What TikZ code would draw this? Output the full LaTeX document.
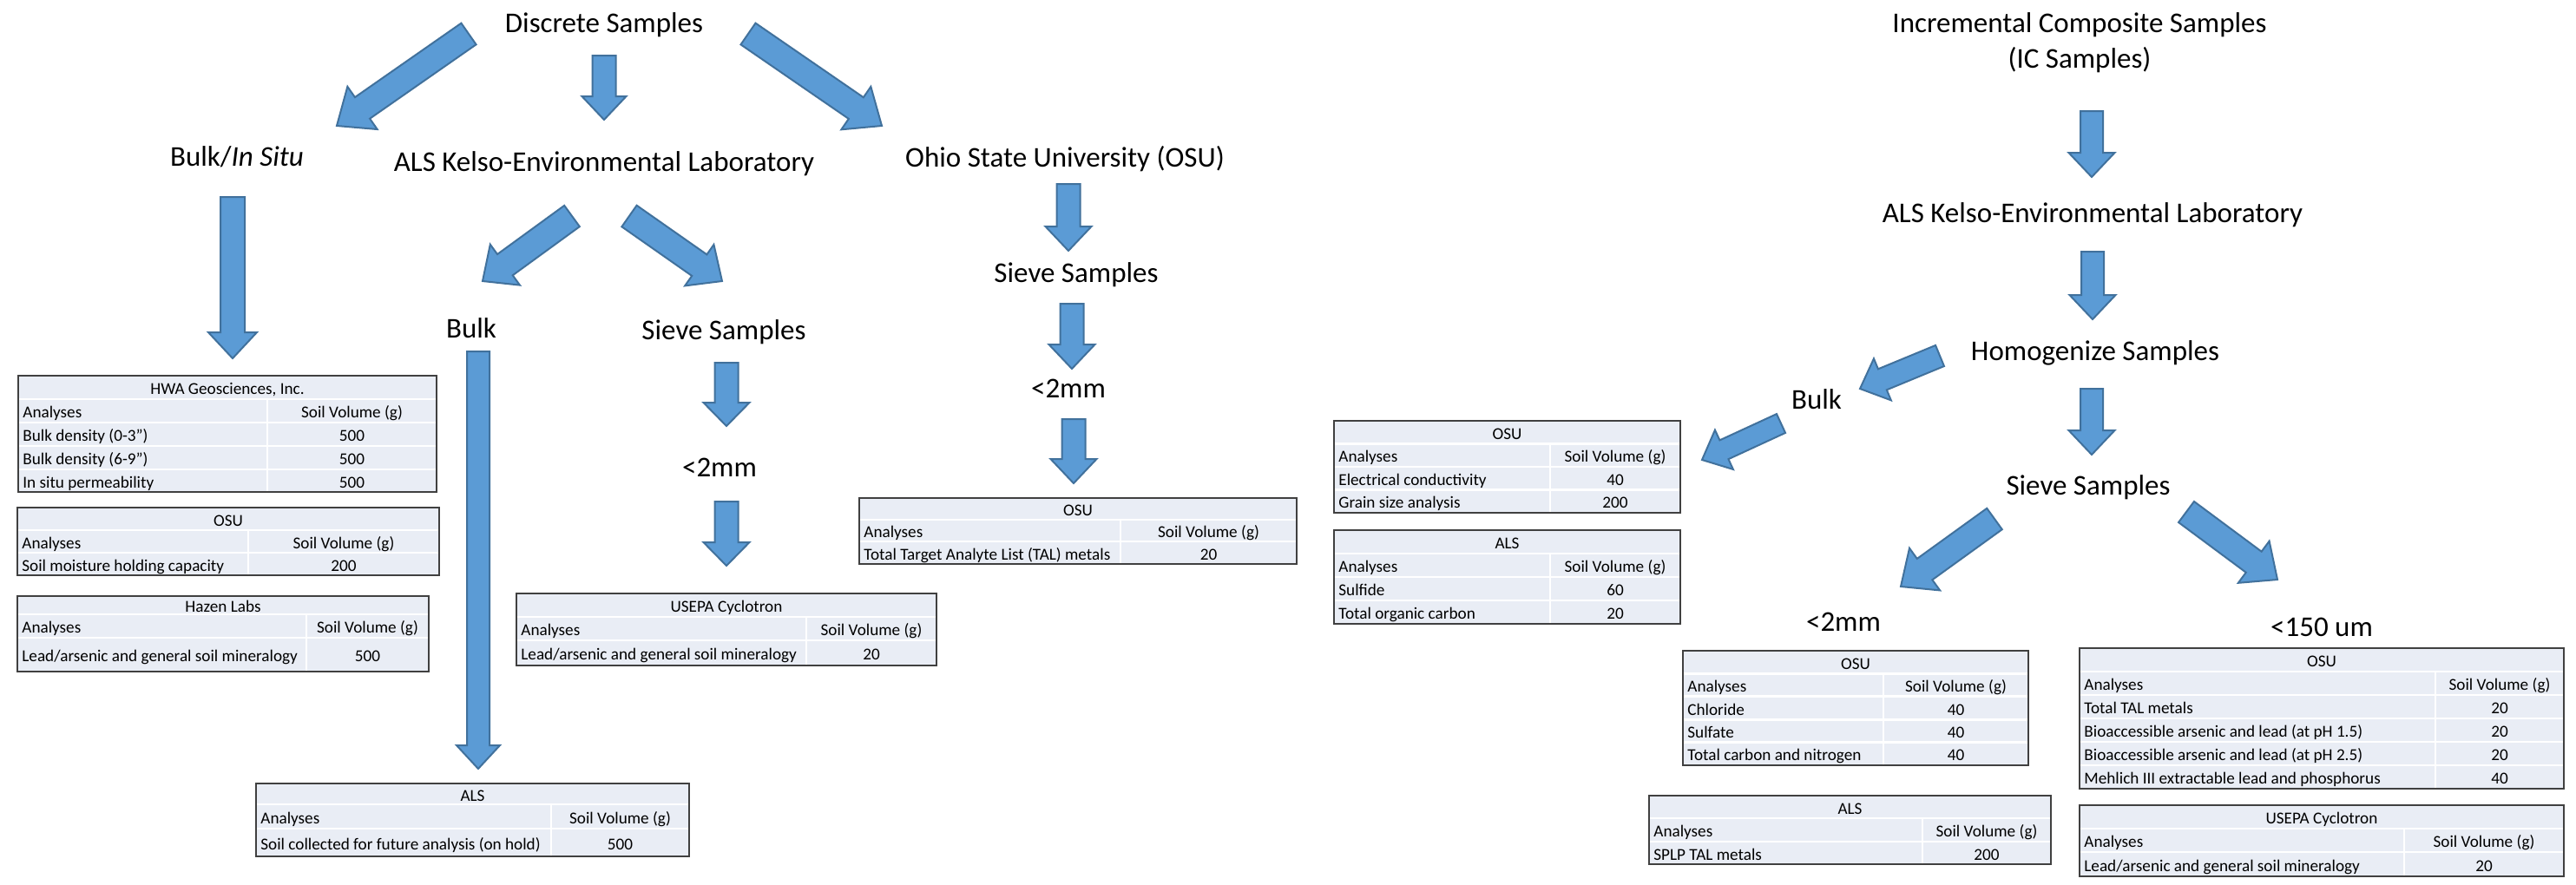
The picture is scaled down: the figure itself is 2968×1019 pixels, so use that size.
\documentclass[tikz,border=0pt]{standalone}
\usepackage{fontspec}
\setmainfont{Carlito}
\usetikzlibrary{calc}
\definecolor{arrfill}{RGB}{91,155,213}
\definecolor{arrline}{RGB}{65,113,156}
\definecolor{cellfill}{RGB}{233,237,245}
\definecolor{framec}{RGB}{64,64,64}
\tikzset{
  lbl/.style={font=\fontsize{16.5}{19}\selectfont, anchor=base, inner sep=0pt},
  tabtxt/.style={font=\fontsize{9.6}{11}\selectfont, anchor=base, inner sep=0pt},
  blk/.style={fill=arrfill, draw=arrline, line width=1pt, line join=miter},
  sepline/.style={white, line width=1.4pt},
  tframe/.style={draw=framec, line width=0.9pt},
}
% #1 tail, #2 tip, #3 half shaft, #4 half head, #5 head length
\newcommand{\blockarrow}[5]{%
  \path ($(#2)!#5!(#1)$) coordinate (hb);
  \filldraw[blk] ($(#1)!#3!90:(#2)$) -- ($(hb)!#3!90:(#2)$) -- ($(hb)!#4!90:(#2)$)
    -- (#2) -- ($(hb)!#4!-90:(#2)$) -- ($(hb)!#3!-90:(#2)$) -- ($(#1)!#3!-90:(#2)$) -- cycle;}
\newcommand{\tabbox}[4]{\fill[cellfill] (#1,#2) rectangle (#3,#4);}
\newcommand{\tabtitle}[6]{\node[tabtxt] (#1) at ({(#2+#3)/2},{(#4+#5)/2+8}) {#6};}
\newcommand{\tabrow}[8]{%
  \draw[sepline] (#2,#5) -- (#4,#5);
  \draw[sepline] (#3,#5) -- (#3,#6);
  \node[tabtxt, anchor=base west] (#1a) at ({#2+5},{(#5+#6)/2+8}) {#7};
  \node[tabtxt] (#1b) at ({(#3+#4)/2},{(#5+#6)/2+8}) {#8};}
\begin{document}
\begin{tikzpicture}[x=0.5pt,y=-0.5pt]
\useasboundingbox[fill=white] (0,0) rectangle (2968,1019);

% ---------- labels ----------
\node[lbl] (disc) at (696,37) {Discrete Samples};
\node[lbl] (bis) at (273,191) {Bulk/\textit{In Situ}};
\node[lbl] (alsL) at (696,197) {ALS Kelso-Environmental Laboratory};
\node[lbl] (ohio) at (1227,192) {Ohio State University (OSU)};
\node[lbl] (sieveO) at (1240,325) {Sieve Samples};
\node[lbl] (mmO) at (1231,458) {<2mm};
\node[lbl] (bulkM) at (543,389) {Bulk};
\node[lbl] (sieveM) at (834,391) {Sieve Samples};
\node[lbl] (mmM) at (829,549) {<2mm};
\node[lbl] (incr) at (2396,37) {Incremental Composite Samples};
\node[lbl] (ic) at (2396,78) {(IC Samples)};
\node[lbl] (alsR) at (2411,256) {ALS Kelso-Environmental Laboratory};
\node[lbl] (homo) at (2414,415) {Homogenize Samples};
\node[lbl] (sieveR) at (2406,570) {Sieve Samples};
\node[lbl] (bulkR) at (2093,471) {Bulk};
\node[lbl] (mmR) at (2124,727) {<2mm};
\node[lbl] (um) at (2675,733) {<150 um};

% ---------- arrow end points ----------
\coordinate (a1s) at (696,64);   \coordinate (a1e) at (696,138);
\coordinate (a2s) at (268,227);  \coordinate (a2e) at (268,413);
\coordinate (a3s) at (551,405);  \coordinate (a3e) at (551,886);
\coordinate (a4s) at (837,418);  \coordinate (a4e) at (837,491);
\coordinate (a5s) at (837,578);  \coordinate (a5e) at (837,652);
\coordinate (a6s) at (1231,212); \coordinate (a6e) at (1231,289);
\coordinate (a7s) at (1235,350); \coordinate (a7e) at (1235,425);
\coordinate (a8s) at (1237,483); \coordinate (a8e) at (1237,557);
\coordinate (a9s) at (2410,128); \coordinate (a9e) at (2410,204);
\coordinate (a10s) at (2411,290); \coordinate (a10e) at (2411,368);
\coordinate (a11s) at (2410,448); \coordinate (a11e) at (2410,524);
\coordinate (d1s) at (540,39);   \coordinate (d1e) at (388,145);
\coordinate (d2s) at (862,39);   \coordinate (d2e) at (1016,145);
\coordinate (d3s) at (659,249);  \coordinate (d3e) at (556,324);
\coordinate (d4s) at (725,249);  \coordinate (d4e) at (832,324);
\coordinate (d5s) at (2235,410); \coordinate (d5e) at (2143,448);
\coordinate (d6s) at (2052,488); \coordinate (d6e) at (1961,530);
\coordinate (d7s) at (2298,598); \coordinate (d7e) at (2190,676);
\coordinate (d8s) at (2519,590); \coordinate (d8e) at (2624,668);

% ---------- block arrows ----------
\blockarrow{a1s}{a1e}{6.75pt}{12.75pt}{13.5pt}
\blockarrow{a2s}{a2e}{7pt}{14pt}{15pt}
\blockarrow{a3s}{a3e}{6.5pt}{12.5pt}{13.5pt}
\blockarrow{a4s}{a4e}{6.75pt}{13.25pt}{13.5pt}
\blockarrow{a5s}{a5e}{6.75pt}{13.25pt}{13.5pt}
\blockarrow{a6s}{a6e}{6.75pt}{13.25pt}{14pt}
\blockarrow{a7s}{a7e}{6.75pt}{13.25pt}{14pt}
\blockarrow{a8s}{a8e}{6.75pt}{13.25pt}{14pt}
\blockarrow{a9s}{a9e}{6.5pt}{13.25pt}{14pt}
\blockarrow{a10s}{a10e}{6.5pt}{13.25pt}{14pt}
\blockarrow{a11s}{a11e}{6.5pt}{13.25pt}{14pt}
\blockarrow{d1s}{d1e}{7.5pt}{15pt}{18pt}
\blockarrow{d2s}{d2e}{7.5pt}{15pt}{18pt}
\blockarrow{d3s}{d3e}{7.5pt}{14.5pt}{16pt}
\blockarrow{d4s}{d4e}{7.5pt}{14.5pt}{16pt}
\blockarrow{d5s}{d5e}{6.5pt}{13pt}{14pt}
\blockarrow{d6s}{d6e}{6pt}{12.5pt}{14pt}
\blockarrow{d7s}{d7e}{7.5pt}{15pt}{17pt}
\blockarrow{d8s}{d8e}{7.5pt}{15pt}{17pt}

% ---------- tables ----------
% T1 HWA
\tabbox{21}{433}{503}{567}
\tabtitle{t1}{21}{503}{433}{460}{HWA Geosciences, Inc.}
\tabrow{t1r1}{21}{308}{503}{460}{487}{Analyses}{Soil Volume (g)}
\tabrow{t1r2}{21}{308}{503}{487}{514}{Bulk density (0-3")}{500}
\tabrow{t1r3}{21}{308}{503}{514}{541}{Bulk density (6-9")}{500}
\tabrow{t1r4}{21}{308}{503}{541}{567}{In situ permeability}{500}
\draw[tframe] (21,433) rectangle (503,567);
% T2 OSU left
\tabbox{20}{585}{506}{663}
\tabtitle{t2}{20}{506}{585}{611}{OSU}
\tabrow{t2r1}{20}{286}{506}{611}{637}{Analyses}{Soil Volume (g)}
\tabrow{t2r2}{20}{286}{506}{637}{663}{Soil moisture holding capacity}{200}
\draw[tframe] (20,585) rectangle (506,663);
% T3 Hazen
\tabbox{20}{687}{494}{774}
\tabtitle{t3}{20}{494}{687}{708}{Hazen Labs}
\tabrow{t3r1}{20}{353}{494}{708}{735}{Analyses}{Soil Volume (g)}
\tabrow{t3r2}{20}{353}{494}{735}{774}{Lead/arsenic and general soil mineralogy}{500}
\draw[tframe] (20,687) rectangle (494,774);
% T4 ALS bottom
\tabbox{295}{903}{794}{987}
\tabtitle{t4}{295}{794}{903}{927}{ALS}
\tabrow{t4r1}{295}{635}{794}{927}{955}{Analyses}{Soil Volume (g)}
\tabrow{t4r2}{295}{635}{794}{955}{987}{Soil collected for future analysis (on hold)}{500}
\draw[tframe] (295,903) rectangle (794,987);
% T5 USEPA middle
\tabbox{595}{684}{1079}{767}
\tabtitle{t5}{595}{1079}{684}{711}{USEPA Cyclotron}
\tabrow{t5r1}{595}{929}{1079}{711}{738}{Analyses}{Soil Volume (g)}
\tabrow{t5r2}{595}{929}{1079}{738}{767}{Lead/arsenic and general soil mineralogy}{20}
\draw[tframe] (595,684) rectangle (1079,767);
% T6 OSU TAL
\tabbox{990}{574}{1494}{650}
\tabtitle{t6}{990}{1494}{574}{599}{OSU}
\tabrow{t6r1}{990}{1291}{1494}{599}{624}{Analyses}{Soil Volume (g)}
\tabrow{t6r2}{990}{1291}{1494}{624}{650}{Total Target Analyte List (TAL) metals}{20}
\draw[tframe] (990,574) rectangle (1494,650);
% T7 OSU electrical
\tabbox{1537}{485}{1936}{591}
\tabtitle{t7}{1537}{1936}{485}{511.5}{OSU}
\tabrow{t7r1}{1537}{1786}{1936}{511.5}{538}{Analyses}{Soil Volume (g)}
\tabrow{t7r2}{1537}{1786}{1936}{538}{564.5}{Electrical conductivity}{40}
\tabrow{t7r3}{1537}{1786}{1936}{564.5}{591}{Grain size analysis}{200}
\draw[tframe] (1537,485) rectangle (1936,591);
% T8 ALS sulfide
\tabbox{1537}{611}{1936}{719}
\tabtitle{t8}{1537}{1936}{611}{638}{ALS}
\tabrow{t8r1}{1537}{1786}{1936}{638}{665}{Analyses}{Soil Volume (g)}
\tabrow{t8r2}{1537}{1786}{1936}{665}{692}{Sulfide}{60}
\tabrow{t8r3}{1537}{1786}{1936}{692}{719}{Total organic carbon}{20}
\draw[tframe] (1537,611) rectangle (1936,719);
% T9 OSU <2mm
\tabbox{1939}{750}{2337}{882}
\tabtitle{t9}{1939}{2337}{750}{776.4}{OSU}
\tabrow{t9r1}{1939}{2170}{2337}{776.4}{802.8}{Analyses}{Soil Volume (g)}
\tabrow{t9r2}{1939}{2170}{2337}{802.8}{829.2}{Chloride}{40}
\tabrow{t9r3}{1939}{2170}{2337}{829.2}{855.6}{Sulfate}{40}
\tabrow{t9r4}{1939}{2170}{2337}{855.6}{882}{Total carbon and nitrogen}{40}
\draw[tframe] (1939,750) rectangle (2337,882);
% T10 ALS SPLP
\tabbox{1900}{917}{2363}{996}
\tabtitle{t10}{1900}{2363}{917}{943}{ALS}
\tabrow{t10r1}{1900}{2215}{2363}{943}{970}{Analyses}{Soil Volume (g)}
\tabrow{t10r2}{1900}{2215}{2363}{970}{996}{SPLP TAL metals}{200}
\draw[tframe] (1900,917) rectangle (2363,996);
% T11 OSU <150
\tabbox{2396}{747}{2954}{909}
\tabtitle{t11}{2396}{2954}{747}{774}{OSU}
\tabrow{t11r1}{2396}{2806}{2954}{774}{801}{Analyses}{Soil Volume (g)}
\tabrow{t11r2}{2396}{2806}{2954}{801}{828}{Total TAL metals}{20}
\tabrow{t11r3}{2396}{2806}{2954}{828}{855}{Bioaccessible arsenic and lead (at pH 1.5)}{20}
\tabrow{t11r4}{2396}{2806}{2954}{855}{882}{Bioaccessible arsenic and lead (at pH 2.5)}{20}
\tabrow{t11r5}{2396}{2806}{2954}{882}{909}{Mehlich III extractable lead and phosphorus}{40}
\draw[tframe] (2396,747) rectangle (2954,909);
% T12 USEPA right
\tabbox{2396}{928}{2954}{1010}
\tabtitle{t12}{2396}{2954}{928}{955}{USEPA Cyclotron}
\tabrow{t12r1}{2396}{2770}{2954}{955}{982}{Analyses}{Soil Volume (g)}
\tabrow{t12r2}{2396}{2770}{2954}{982}{1010}{Lead/arsenic and general soil mineralogy}{20}
\draw[tframe] (2396,928) rectangle (2954,1010);
\end{tikzpicture}
\end{document}
